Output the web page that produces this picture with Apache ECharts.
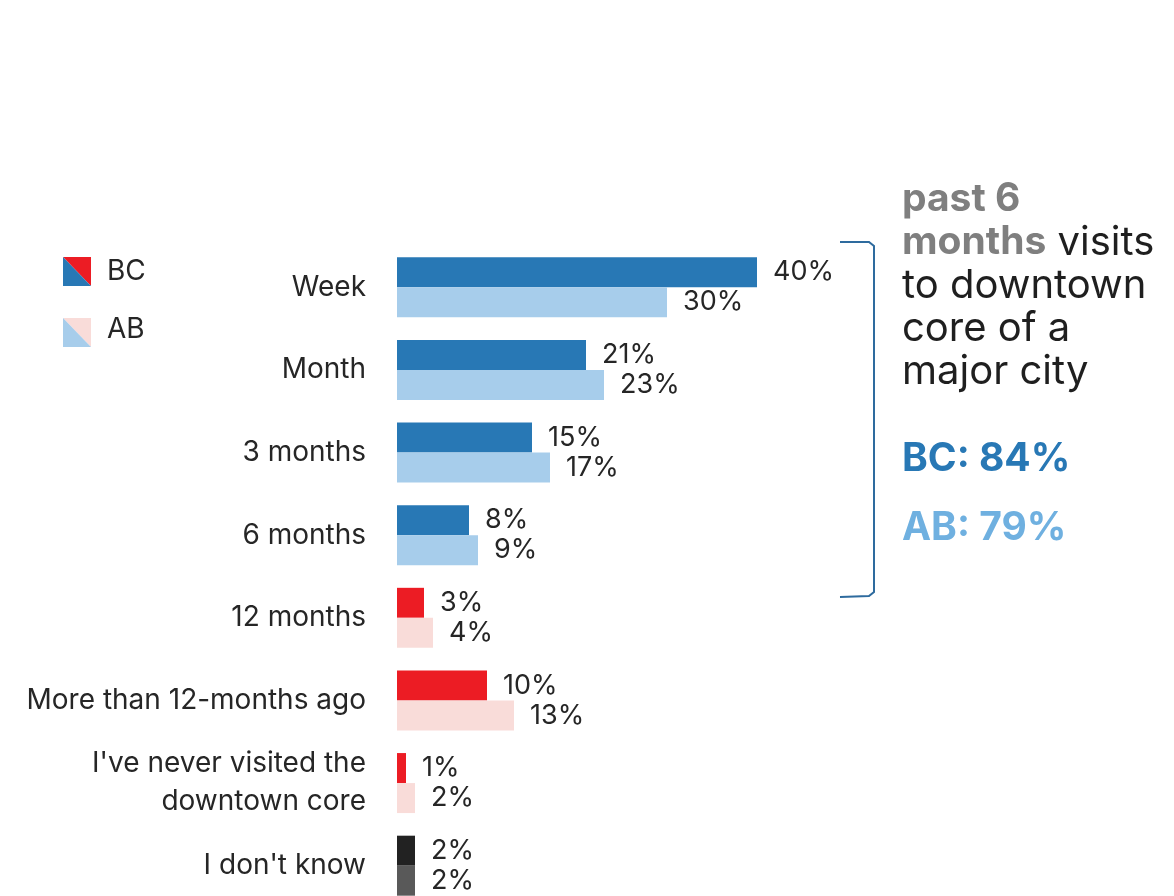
<!DOCTYPE html>
<html>
<head>
<meta charset="utf-8">
<script src="https://cdn.jsdelivr.net/npm/echarts@6/dist/echarts.min.js"></script>
<style>
  html, body { margin: 0; padding: 0; background: #fff; overflow: hidden; }
  #visits { width: 1174px; height: 910px; }
</style>
</head>
<body>
<div id="visits"></div>
<script>
// last visit to downtown core, BC vs AB
const categories = ['Week', 'Month', '3 months', '6 months', '12 months',
  'More than 12-months ago', "I've never visited the\ndowntown core", "I don't know"];
const bcValues = [40, 21, 15, 8, 3, 10, 1, 2];
const abValues = [30, 23, 17, 9, 4, 13, 2, 2];
const seriesNames = ['BC', 'AB'];

const FONT = 'Inter, "Noto Sans", sans-serif';
const TXT = '#262626';

// colour groups: within 6 months / older / don't know
function bcColor(i) {
  if (i < 4) return '#2878b5';
  if (i < 7) return '#ec1c24';
  return '#222222';
}
function abColor(i) {
  if (i < 4) return '#a7cdeb';
  if (i < 7) return '#f9dcd9';
  return '#595959';
}

// chart is a bit taller than the window so the last row is cut like the original
const chart = echarts.init(document.getElementById('visits'));

function mkSeries(name, values, colorFn) {
  return {
    name: name,
    type: 'bar',
    barWidth: 30,
    barGap: '0%',
    silent: true,
    data: values.map((v, i) => ({ value: v, itemStyle: { color: colorFn(i) } })),
    label: {
      show: true,
      position: 'right',
      distance: 16,
      formatter: '{c}%',
      color: TXT,
      fontSize: 27,
      fontFamily: FONT
    }
  };
}

const option = {
  animation: false,
  backgroundColor: '#fff',
  grid: { left: 397, top: 246, width: 450, height: 661, containLabel: false },
  xAxis: {
    type: 'value',
    min: 0,
    max: 50,
    show: false
  },
  yAxis: {
    type: 'category',
    inverse: true,
    data: categories,
    axisLine: { show: false },
    axisTick: { show: false },
    axisLabel: {
      margin: 31,
      color: TXT,
      fontSize: 28,
      fontFamily: FONT,
      lineHeight: 38,
      align: 'right'
    }
  },
  series: [
    mkSeries(seriesNames[0], bcValues, bcColor),
    mkSeries(seriesNames[1], abValues, abColor)
  ],
  graphic: [
    // legend swatches, split diagonally
    { type: 'polygon', shape: { points: [[63, 257], [91, 257], [91, 286]] }, style: { fill: '#ec1c24' } },
    { type: 'polygon', shape: { points: [[63, 257], [91, 286], [63, 286]] }, style: { fill: '#2878b5' } },
    { type: 'text', x: 107, y: 258, style: { text: seriesNames[0], fontSize: 28, fontFamily: FONT, fill: TXT } },
    { type: 'polygon', shape: { points: [[63, 318], [91, 318], [91, 347]] }, style: { fill: '#f9dcd9' } },
    { type: 'polygon', shape: { points: [[63, 318], [91, 347], [63, 347]] }, style: { fill: '#a7cdeb' } },
    { type: 'text', x: 107, y: 316, style: { text: seriesNames[1], fontSize: 28, fontFamily: FONT, fill: TXT } },
    // bracket
    {
      type: 'polyline',
      shape: { points: [[840, 242], [869, 242], [874, 246], [874, 592], [869, 596], [840, 597]] },
      style: { fill: null, stroke: '#2e6b9e', lineWidth: 2 }
    },
    // annotation
    {
      type: 'text',
      x: 902,
      y: 178,
      style: {
        text: '{g|past 6}\n{g|months}{d| visits}\n{d|to downtown}\n{d|core of a}\n{d|major city}',
        fontFamily: FONT,
        rich: {
          g: { fontSize: 39, fontWeight: 'bold', fill: '#7f7f7f', lineHeight: 43, fontFamily: FONT },
          d: { fontSize: 40, fill: '#1f1f1f', lineHeight: 43, fontFamily: FONT }
        }
      }
    },
    {
      type: 'text', x: 902, y: 440,
      style: { text: 'BC: 84%', fontSize: 39, fontWeight: 'bold', fill: '#2878b5', fontFamily: FONT }
    },
    {
      type: 'text', x: 902, y: 509,
      style: { text: 'AB: 79%', fontSize: 39, fontWeight: 'bold', fill: '#6fb0e0', fontFamily: FONT }
    }
  ]
};

chart.setOption(option);
</script>
</body>
</html>
